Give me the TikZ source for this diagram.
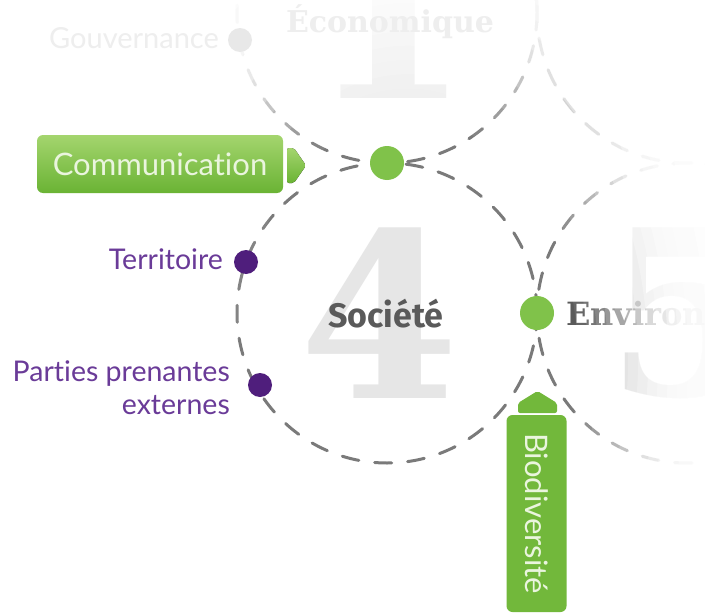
\documentclass[tikz,border=0pt]{standalone}
\usepackage{fontspec}
\setmainfont{Lato}[Ligatures=NoCommon]
\newfontfamily\socfont{Fira Sans}
\newfontfamily\slabfont{DejaVu Serif}
\definecolor{dashgray}{HTML}{7A7A7A}
\definecolor{dotgreen}{HTML}{80C24A}
\definecolor{boxtop}{HTML}{A4D56E}
\definecolor{boxbot}{HTML}{6AB334}
\definecolor{biogreen}{HTML}{72B83B}
\definecolor{purpletext}{HTML}{6A3B98}
\definecolor{purpledot}{HTML}{4F1E7C}
\definecolor{numgray}{HTML}{E6E6E6}
\definecolor{labelgray}{HTML}{5A5A5A}
\definecolor{boxtext}{HTML}{EAF5DE}
\definecolor{ghost}{HTML}{EEEEEE}
\begin{document}
\begin{tikzpicture}[x=1pt,y=-1pt,
  dashcircle/.style={draw=dashgray, line width=3pt, line cap=round, dash pattern=on 17pt off 16pt},
  bignum/.style={inner sep=0, text=numgray, font=\slabfont\bfseries\fontsize{230}{230}\selectfont},
  gdot/.style={circle, fill=dotgreen, minimum size=34pt, inner sep=0},
  pdot/.style={circle, fill=purpledot, minimum size=24pt, inner sep=0},
  plabel/.style={inner sep=0, text=purpletext, font=\fontsize{28.5}{33}\selectfont},
  commbox/.style={rounded corners=6pt, top color=boxtop, bottom color=boxbot, draw=none, minimum width=246pt, minimum height=58pt, inner sep=0, text=boxtext, font=\fontsize{31}{31}\selectfont},
  biobox/.style={rounded corners=6pt, fill=biogreen, minimum width=197pt, minimum height=60pt, inner sep=0, text=boxtext, font=\fontsize{31}{31}\selectfont},
  tabshape/.style={rounded corners=2pt},
  veil/.style={fill=white, even odd rule}
]
\useasboundingbox (0,0) rectangle (705,613);
\fill[white] (0,0) rectangle (705,613);
% circle centres
\coordinate (cS) at (387,313);
\coordinate (cE) at (387,13);
\coordinate (cN) at (687,13);
\coordinate (cV) at (687,313);
\coordinate (fc) at (408,360);
% big numbers
\node[bignum] (n4) at (380,313) {4};
\node[bignum, text=ghost] (n1) at (390,13) {1};
\node[bignum, text={rgb,255:red,208;green,208;blue,208}] (n5) at (687,313) {5};
% dashed circles
\draw[dashcircle] (cS) circle[radius=150];
\draw[dashcircle] (cE) circle[radius=150];
\draw[dashcircle] (cN) circle[radius=150];
\draw[dashcircle] (cV) circle[radius=150];
% background labels
\node[inner sep=0, text=labelgray, font=\socfont\bfseries\fontsize{34}{34}\selectfont] (soc) at (386,314) {Société};
\node[inner sep=0, anchor=west, text=labelgray, font=\slabfont\bfseries\fontsize{32}{32}\selectfont] (env) at (566,314) {Environnement};
% fade veil: stacked translucent white elliptical rings around (fc)
\begin{scope}
\clip (0,0) rectangle (705,613);
\foreach \r/\a in {170/0.08,180/0.098,190/0.12,200/0.15,210/0.145,220/0.19,
                   230/0.26,240/0.31,250/0.32,260/0.4,270/0.33,280/0.33,300/0.5,330/0.5}
  \fill[veil, fill opacity=\a] (-300,-300) rectangle (1100,1000) (fc) ellipse[x radius=\r, y radius=\r/0.7];
\end{scope}
% faint labels of the inactive circles
\node[inner sep=0, text=ghost, font=\slabfont\bfseries\fontsize{30}{30}\selectfont] (eco) at (390,22) {Économique};
\node[inner sep=0, anchor=east, text=ghost, font=\fontsize{29}{29}\selectfont] (gouv) at (219,38) {Gouvernance};
\node[pdot, fill={rgb,255:red,232;green,232;blue,232}] (gdotb) at (240,40) {};
% junction dots
\node[gdot] (j1) at (387,163) {};
\node[gdot] (j2) at (537,313) {};
% purple labels
\node[pdot] (tdot) at (246,262) {};
\node[plabel, anchor=east] (terr) at (223,259) {Territoire};
\node[pdot] (ppdot) at (260,385) {};
\node[plabel, anchor=east, align=right] (parties) at (230,388) {Parties prenantes\\externes};
% Communication box and tab
\node[commbox] (comm) at (160,164) {Communication};
\fill[tabshape, top color=boxtop, bottom color=boxbot] (287,148) -- (294,148) -- (306,165.5) -- (294,183) -- (287,183) -- cycle;
% Biodiversite box and tab
\node[biobox, rotate=-90] (bio) at (536.5,513.5) {Biodiversité};
\fill[tabshape, fill=biogreen] (518,413) -- (518,403) -- (537.5,391) -- (557,403) -- (557,413) -- cycle;
\end{tikzpicture}
\end{document}
